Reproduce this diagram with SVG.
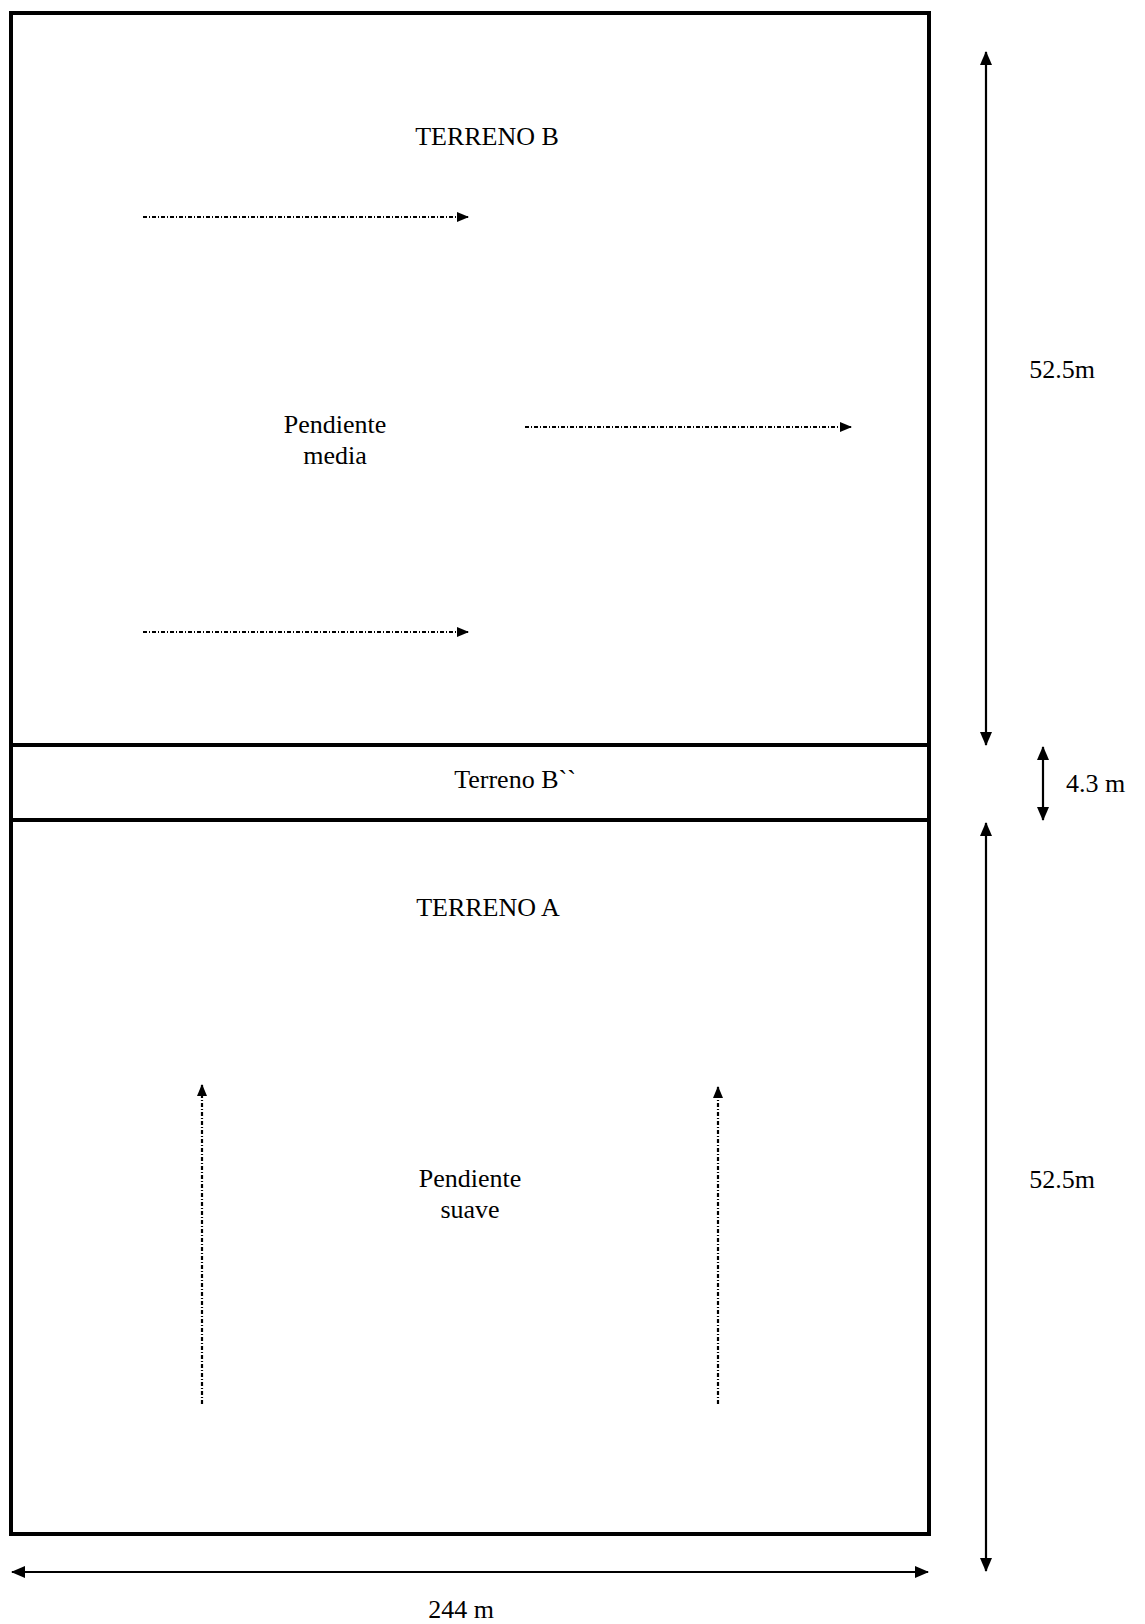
<svg xmlns="http://www.w3.org/2000/svg" width="1145" height="1624" viewBox="0 0 1145 1624">
<style>
.t{font-family:"Liberation Serif","Times New Roman",serif;font-size:26px;fill:#000}
.box{fill:none;stroke:#000;stroke-width:4}
.dim{stroke:#000;stroke-width:2.2;fill:none}
.flow{stroke:#000;stroke-width:2.2;fill:none;stroke-dasharray:4 2 1 2}
</style>
<defs>
<marker id="ah" viewBox="0 0 14 12" refX="13" refY="6" markerWidth="14" markerHeight="12" markerUnits="userSpaceOnUse" orient="auto-start-reverse">
<path d="M0,0 L14,6 L0,12 Z" fill="#000"/>
</marker>
<marker id="fh" viewBox="0 0 12 10" refX="11" refY="5" markerWidth="12" markerHeight="10" markerUnits="userSpaceOnUse" orient="auto">
<path d="M0,0 L12,5 L0,10 Z" fill="#000"/>
</marker>
</defs>
<rect width="1145" height="1624" fill="#fff"/>
<g id="terreno-b">
<rect class="box" x="11" y="13" width="918" height="732"/>
<text class="t" x="487" y="145" text-anchor="middle">TERRENO B</text>
<text class="t" x="335" y="433" text-anchor="middle">Pendiente</text>
<text class="t" x="335" y="464" text-anchor="middle">media</text>
</g>
<g id="terreno-b2">
<rect class="box" x="11" y="745" width="918" height="75"/>
<text class="t" x="515" y="788" text-anchor="middle">Terreno B``</text>
</g>
<g id="terreno-a">
<rect class="box" x="11" y="820" width="918" height="714"/>
<text class="t" x="488" y="916" text-anchor="middle">TERRENO A</text>
<text class="t" x="470" y="1187" text-anchor="middle">Pendiente</text>
<text class="t" x="470" y="1218" text-anchor="middle">suave</text>
</g>
<g id="connectors">
<line class="flow" x1="143" y1="217" x2="468" y2="217" marker-end="url(#fh)"/>
<line class="flow" x1="525" y1="427" x2="851" y2="427" marker-end="url(#fh)"/>
<line class="flow" x1="143" y1="632" x2="468" y2="632" marker-end="url(#fh)"/>
<line class="flow" x1="202" y1="1404" x2="202" y2="1085" marker-end="url(#fh)"/>
<line class="flow" x1="718" y1="1404" x2="718" y2="1087" marker-end="url(#fh)"/>
<line class="dim" x1="986" y1="52" x2="986" y2="745" marker-start="url(#ah)" marker-end="url(#ah)"/>
<line class="dim" x1="1043" y1="747" x2="1043" y2="820" marker-start="url(#ah)" marker-end="url(#ah)"/>
<line class="dim" x1="986" y1="823" x2="986" y2="1571" marker-start="url(#ah)" marker-end="url(#ah)"/>
<line class="dim" x1="12" y1="1572" x2="928" y2="1572" marker-start="url(#ah)" marker-end="url(#ah)"/>
</g>
<g id="labels">
<text class="t" x="1062" y="378" text-anchor="middle">52.5m</text>
<text class="t" x="1066" y="792">4.3 m</text>
<text class="t" x="1062" y="1188" text-anchor="middle">52.5m</text>
<text class="t" x="461" y="1618" text-anchor="middle">244 m</text>
</g>
</svg>
